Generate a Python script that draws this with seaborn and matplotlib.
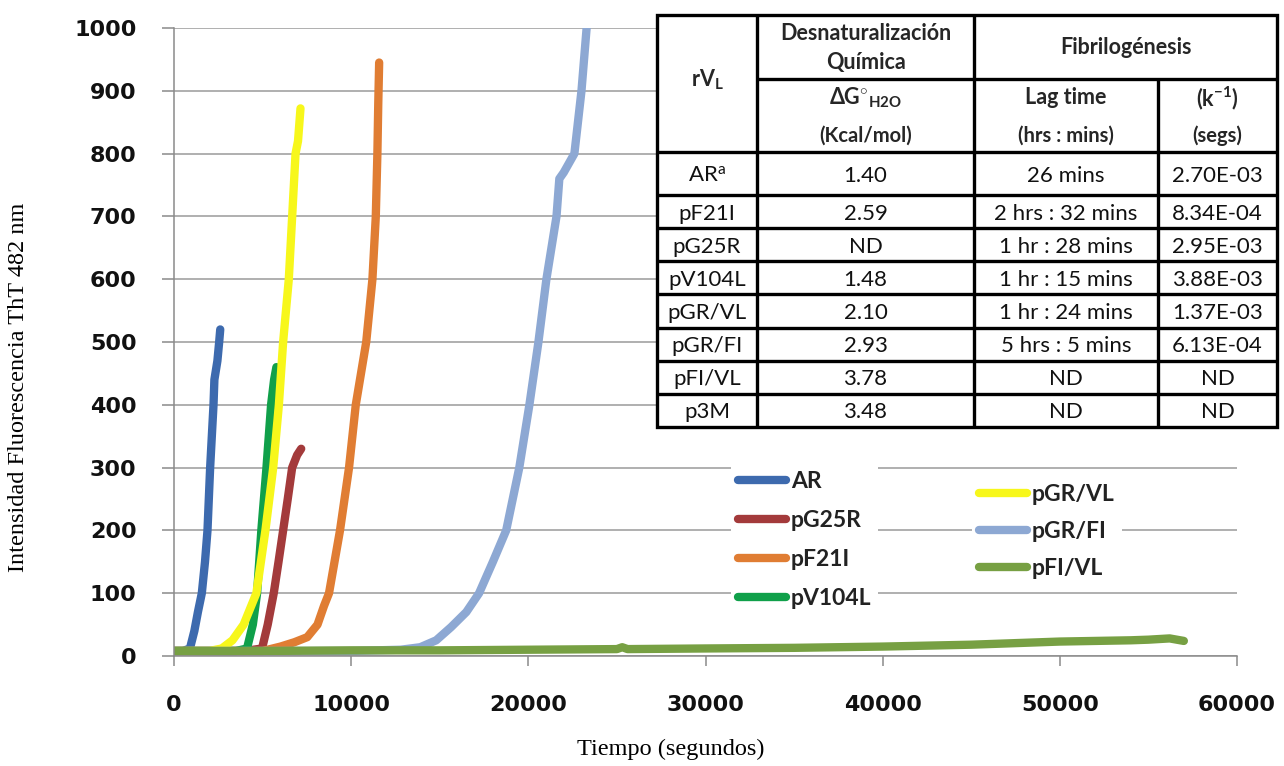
import numpy as np
import pandas as pd
import matplotlib
matplotlib.use('Agg')
import matplotlib.pyplot as plt
from matplotlib.patches import Rectangle
import seaborn as sns

# --- Datos ---
series = ['AR', 'pG25R', 'pF21I', 'pV104L', 'pGR/VL', 'pGR/FI', 'pFI/VL']
colores = ['#3D6AAE', '#A33A3B', '#E07D33', '#10A04A', '#F7F71B', '#8DA8D3', '#77A043']

t_ar = [0, 500, 900, 1150, 1350, 1570, 1750, 1890, 2040, 2230, 2280, 2450, 2550, 2610]
y_ar = [8, 8, 12, 40, 70, 100, 150, 200, 300, 400, 440, 470, 500, 520]

t_g25r = [0, 4000, 4970, 5290, 5630, 5900, 6160, 6420, 6670, 6950, 7180]
y_g25r = [8, 8, 12, 50, 100, 150, 200, 250, 300, 320, 330]

t_f21i = [0, 5000, 6010, 6800, 7520, 8100, 8470, 8750, 9370, 9880, 10260, 10850,
          11200, 11390, 11480, 11530, 11580]
y_f21i = [8, 8, 15, 22, 30, 50, 80, 100, 200, 300, 400, 500, 600, 700, 800, 880, 945]

t_v104l = [0, 3500, 4120, 4450, 4690, 4930, 5220, 5480, 5650, 5780]
y_v104l = [8, 8, 12, 50, 100, 200, 300, 400, 440, 460]

t_grvl = [0, 2000, 2700, 3300, 3930, 4650, 5160, 5600, 5920, 6160, 6480, 6670, 6860, 7000, 7140]
y_grvl = [8, 8, 12, 25, 50, 100, 200, 300, 400, 500, 600, 700, 800, 820, 872]

t_grfi = [0, 10000, 12800, 13900, 14800, 15640, 16500, 17220, 18000, 18750, 19490, 20060,
          20570, 21020, 21590, 21750, 22000, 22600, 23000, 23290]
y_grfi = [8, 8, 10, 14, 25, 46, 70, 100, 150, 200, 300, 400, 500, 600, 700, 760, 770,
          800, 900, 1000]

t_fivl = [0, 5000, 10000, 15000, 20000, 25000, 25300, 25600, 30000, 35000, 40000, 45000,
          48000, 50000, 52000, 54000, 55000, 56200, 57000]
y_fivl = [8, 8, 9, 9, 10, 11, 14, 11, 12, 13, 15, 18, 21, 23, 24, 25, 26, 28, 24]

tiempos = [t_ar, t_g25r, t_f21i, t_v104l, t_grvl, t_grfi, t_fivl]
valores = [y_ar, y_g25r, y_f21i, y_v104l, y_grvl, y_grfi, y_fivl]

# tabla
tabla_filas = ['AR$^{\\mathrm{a}}$', 'pF21I', 'pG25R', 'pV104L', 'pGR/VL', 'pGR/FI', 'pFI/VL', 'p3M']
tabla_dg = ['1.40', '2.59', 'ND', '1.48', '2.10', '2.93', '3.78', '3.48']
tabla_lag = ['26 mins', '2 hrs : 32 mins', '1 hr : 28 mins', '1 hr : 15 mins',
             '1 hr : 24 mins', '5 hrs : 5 mins', 'ND', 'ND']
tabla_k = ['2.70E-03', '8.34E-04', '2.95E-03', '3.88E-03', '1.37E-03', '6.13E-04', 'ND', 'ND']

df = pd.concat([pd.DataFrame({'t': t, 'val': v, 'serie': s})
                for t, v, s in zip(tiempos, valores, series)], ignore_index=True)

# --- Estilo ---
sns.set_style('white')
plt.rcParams['font.family'] = ['DejaVu Sans']
plt.rcParams['mathtext.fontset'] = 'custom'
plt.rcParams['mathtext.rm'] = 'Lato'
plt.rcParams['mathtext.bf'] = 'Lato:bold'
plt.rcParams['mathtext.it'] = 'Lato:italic'

W, H = 1284, 766
fig = plt.figure(figsize=(W / 100, H / 100), dpi=100)
ax = fig.add_axes([174 / W, 1 - 656 / H, 1063 / W, 628 / H])

sns.lineplot(data=df, x='t', y='val', hue='serie', hue_order=series,
             palette=colores, estimator=None, sort=False, lw=6,
             solid_capstyle='round', solid_joinstyle='round', legend=False, ax=ax)

ax.set_xlim(0, 60000)
ax.set_ylim(0, 1000)
ax.set_xticks(range(0, 60001, 10000))
ax.set_yticks(range(0, 1001, 100))
ax.yaxis.grid(True, color='#9a9a9a', lw=1.1)
ax.set_axisbelow(True)
for s in ['top', 'right']:
    ax.spines[s].set_visible(False)
for s in ['left', 'bottom']:
    ax.spines[s].set_color('#8a8a8a')
    ax.spines[s].set_linewidth(1.1)
ax.tick_params(axis='y', direction='out', length=9, width=1.1, color='#8a8a8a', pad=18, left=True)
ax.tick_params(axis='x', direction='out', length=7, width=1.1, color='#8a8a8a', pad=21, bottom=True)
for lab in ax.get_xticklabels() + ax.get_yticklabels():
    lab.set_fontsize(16)
    lab.set_fontweight('bold')
    lab.set_color('#111111')

ax.set_xlabel('Tiempo (segundos)', family='Liberation Serif', fontsize=17.5, color='black')
ax.set_ylabel('Intensidad Fluorescencia ThT 482 nm', family='Liberation Serif', fontsize=17.5, color='black')
ax.xaxis.set_label_coords((671 - 174) / 1063, -(749 - 656) / 628)
ax.yaxis.set_label_coords((19 - 174) / 1063, (656 - 387) / 628)
ax.xaxis.label.set_va('center')
ax.yaxis.label.set_va('center')

# --- Leyendas (dos bloques) ---
lineas = ax.get_lines()[:len(series)]
prop = dict(family='Lato', weight='bold', size=16.5)
leg1 = ax.legend(lineas[:4], series[:4], loc='upper left',
                 bbox_to_anchor=(720 / W, 1 - 453 / H), bbox_transform=fig.transFigure,
                 prop=prop, frameon=True, framealpha=1, edgecolor='none', fancybox=False,
                 handlelength=2.1, handletextpad=0.2, labelspacing=0.78, borderpad=0.3)
for t in leg1.get_texts():
    t.set_color('#222222')
ax.add_artist(leg1)
leg2 = ax.legend(lineas[4:], series[4:], loc='upper left',
                 bbox_to_anchor=(961 / W, 1 - 466 / H), bbox_transform=fig.transFigure,
                 prop=prop, frameon=True, framealpha=1, edgecolor='none', fancybox=False,
                 handlelength=2.1, handletextpad=0.2, labelspacing=0.7, borderpad=0.3)
for t in leg2.get_texts():
    t.set_color('#222222')

# --- Tabla ---
x0, x1, x2, x3, x4 = 657, 757, 974, 1158, 1277
y_top, y_mid, y_head, y_ar_end, y_bot = 15, 79, 152, 195, 427
tab = fig.add_axes([x0 / W, 1 - y_bot / H, (x4 - x0) / W, (y_bot - y_top) / H])
tab.set_xlim(x0, x4)
tab.set_ylim(y_bot, y_top)
tab.axis('off')
tab.add_patch(Rectangle((x0, y_top), x4 - x0, y_bot - y_top, fc='white', ec='black', lw=2.4, clip_on=False))
lw_t = 2.4
tab.vlines([x1, x2], y_top, y_bot, color='black', lw=lw_t, clip_on=False)
tab.vlines([x3], y_mid, y_bot, color='black', lw=lw_t, clip_on=False)
tab.hlines(y_mid, x1, x4, color='black', lw=lw_t, clip_on=False)
bordes = [y_head, y_ar_end] + list(np.linspace(y_ar_end, y_bot, 8)[1:-1])
tab.hlines(bordes, x0, x4, color='black', lw=lw_t, clip_on=False)

cx = [(x0 + x1) / 2, (x1 + x2) / 2, (x2 + x3) / 2, (x3 + x4) / 2]
hb = dict(family='Lato', weight='bold', size=15.5, ha='center', va='center')
tab.text(cx[0], 80, r'$\mathbf{rV_L}$', **hb)
tab.text(cx[1], 33, 'Desnaturalización', **hb)
tab.text(cx[1], 63, 'Química', **hb)
tab.text((x2 + x4) / 2, 48, 'Fibrilogénesis', **hb)
tab.text(cx[1], 98, r'$\mathbf{\Delta G^{\circ}{}_{H2O}}$', **hb)
tab.text(cx[2], 98, 'Lag time', **hb)
tab.text(cx[3], 98, r'$\mathbf{(k^{-1})}$', **hb)
hb2 = dict(hb, size=14.5)
tab.text(cx[1], 136, '(Kcal/mol)', **hb2)
tab.text(cx[2], 136, '(hrs : mins)', **hb2)
tab.text(cx[3], 136, '(segs)', **hb2)

filas_y = [y_head] + [y_ar_end] + list(np.linspace(y_ar_end, y_bot, 8)[1:])
centros = [(filas_y[i] + filas_y[i + 1]) / 2 + 2 for i in range(8)]
td = dict(family='Lato', size=16, ha='center', va='center', color='#111111')
for i in range(8):
    tab.text(cx[0], centros[i], tabla_filas[i], **td)
    tab.text(cx[1], centros[i], tabla_dg[i], **td)
    tab.text(cx[2], centros[i], tabla_lag[i], **td)
    tab.text(cx[3], centros[i], tabla_k[i], **td)

plt.savefig('out.png', dpi=100)
